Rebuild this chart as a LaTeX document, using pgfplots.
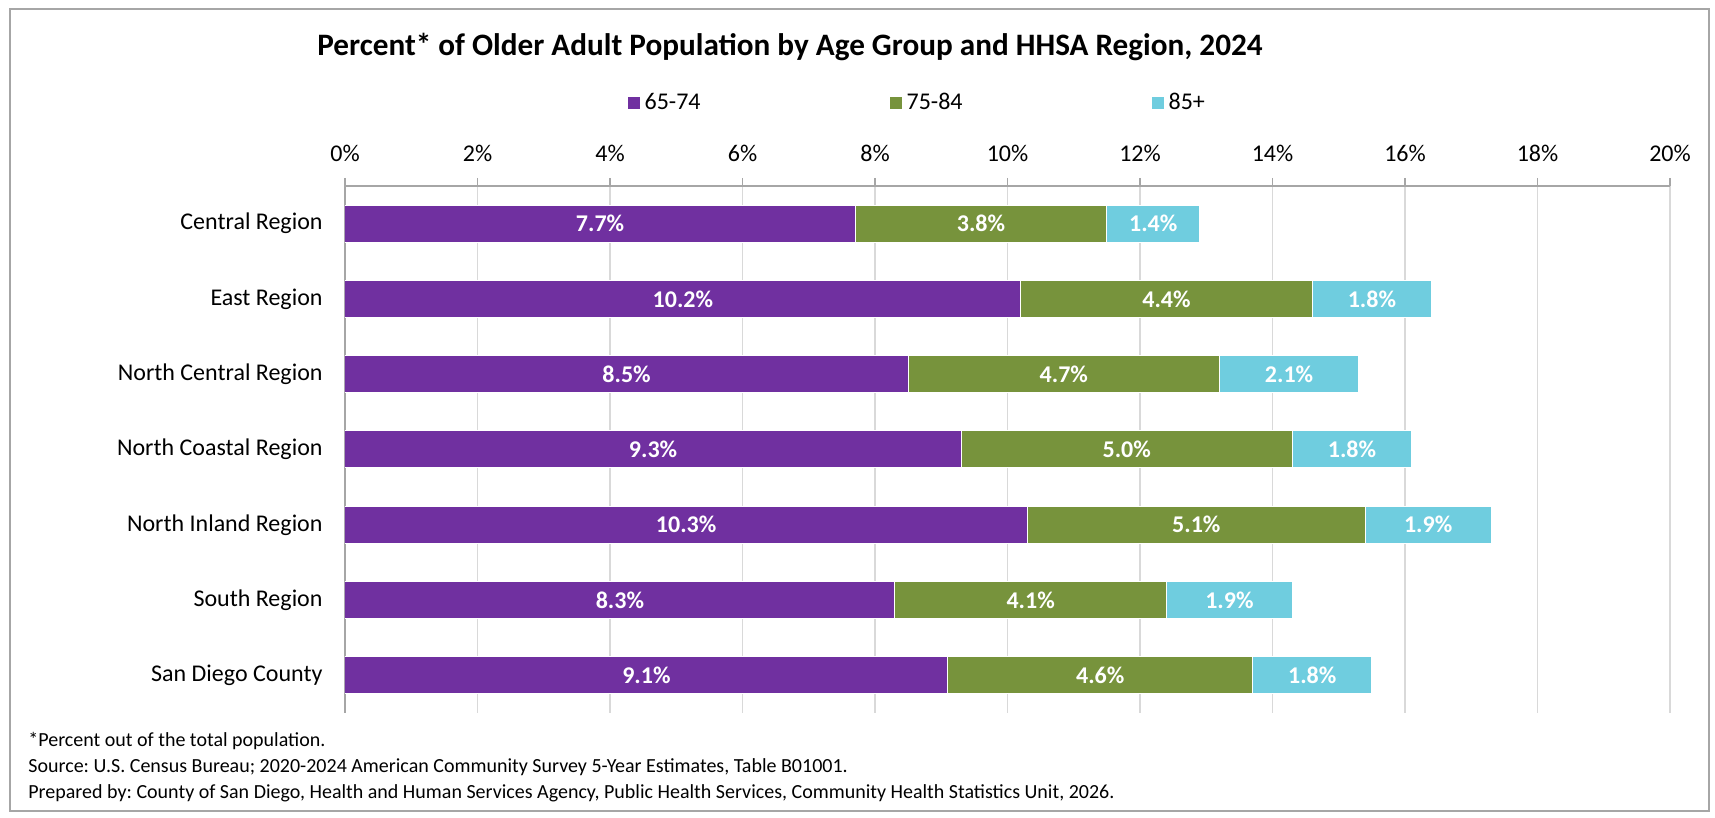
\documentclass[border=0pt]{standalone}
\usepackage{pgfplots}
\usepackage{pgfplotstable}
\pgfplotsset{compat=1.18}
\usepackage{fontspec}
\setmainfont{Carlito}
\frenchspacing
\definecolor{cPurple}{HTML}{7030A0}
\definecolor{cGreen}{HTML}{77933C}
\definecolor{cCyan}{HTML}{6FCDDF}
\definecolor{gridgray}{HTML}{D9D9D9}
\definecolor{axisgray}{HTML}{A6A6A6}

\pgfplotstableread{
pos a b c
0 7.7 3.8 1.4
1 10.2 4.4 1.8
2 8.5 4.7 2.1
3 9.3 5.0 1.8
4 10.3 5.1 1.9
5 8.3 4.1 1.9
6 9.1 4.6 1.8
}\datatable

\begin{document}
\begin{tikzpicture}[x=0.5pt,y=0.5pt]
\useasboundingbox (0,0) rectangle (1715,818);
\draw[color=axisgray, line width=0.6pt] (10,7) rectangle (1709,809);
\node[font=\bfseries\fontsize{15.6}{18}\selectfont] at (790,771) {Percent* of Older Adult Population by Age Group and HHSA Region, 2024};
\node[anchor=west, font=\fontsize{10}{12}\selectfont, inner sep=0pt] at (28,77) {*Percent out of the total population.};
\node[anchor=west, font=\fontsize{10}{12}\selectfont, inner sep=0pt] at (28,51) {Source: U.S. Census Bureau; 2020-2024 American Community Survey 5-Year Estimates, Table B01001.};
\node[anchor=west, font=\fontsize{10}{12}\selectfont, inner sep=0pt] at (28,25) {Prepared by: County of San Diego, Health and Human Services Agency, Public Health Services, Community Health Statistics Unit, 2026.};
\begin{axis}[
  at={(172.5pt,316pt)}, anchor=north west,
  scale only axis, width=662.5pt, height=263.5pt,
  xbar stacked, bar width=18.5pt,
  xmin=0, xmax=20, ymin=-0.5, ymax=6.5, y dir=reverse,
  axis x line*=top, axis y line*=left,
  axis line style={axisgray, line width=0.6pt},
  xtick={0,2,...,20},
  xticklabel={\pgfmathprintnumber{\tick}\%},
  tick align=outside, major tick length=4pt,
  x tick style={axisgray, line width=0.6pt},
  xmajorgrids, grid style={gridgray, line width=0.6pt},
  ytick={0,1,2,3,4,5,6},
  yticklabels={Central Region, East Region, North Central Region, North Coastal Region, North Inland Region, South Region, San Diego County},
  y tick style={draw=none},
  yticklabel style={font=\fontsize{12}{14}\selectfont, xshift=-3.7pt},
  xticklabel style={font=\fontsize{12}{14}\selectfont, yshift=4.4pt},
  /pgf/number format/assume math mode=true,
  point meta=explicit,
  nodes near coords={\pgfmathprintnumber[fixed,fixed zerofill,precision=1]{\pgfplotspointmeta}\%},
  every node near coord/.append style={font=\bfseries\fontsize{12}{14}\selectfont, text=white, anchor=center},
  legend style={at={(0.2077,1.1575)}, anchor=west, draw=none, fill=none, legend columns=3,
     font=\fontsize{12}{14}\selectfont, nodes={inner xsep=2pt, text width=120pt, align=left}},
  legend image code/.code={\fill[#1] (0pt,-3.25pt) rectangle (6.5pt,3.25pt);},
]
\addplot[fill=cPurple, draw=white, line width=0.5pt] table[x=a, y=pos, meta=a] {\datatable};
\addplot[fill=cGreen, draw=white, line width=0.5pt] table[x=b, y=pos, meta=b] {\datatable};
\addplot[fill=cCyan, draw=white, line width=0.5pt] table[x=c, y=pos, meta=c] {\datatable};
\legend{65-74, 75-84, 85+}
\end{axis}
\end{tikzpicture}
\end{document}
